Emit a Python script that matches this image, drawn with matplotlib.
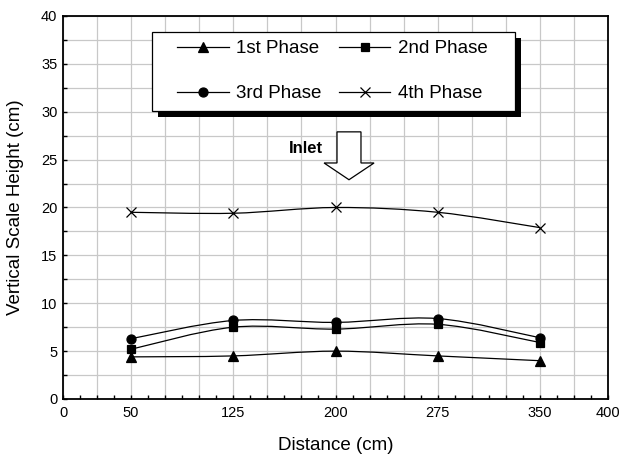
import numpy as np
import matplotlib.pyplot as plt
from matplotlib.path import Path
from matplotlib.patches import PathPatch, Polygon, Rectangle
from matplotlib.lines import Line2D
from matplotlib.ticker import MultipleLocator, FuncFormatter

plt.rcParams['font.family'] = ['Liberation Sans', 'DejaVu Sans']

# Data
distance = [50, 125, 200, 275, 350]
phase1 = [4.4, 4.5, 5.0, 4.5, 4.0]
phase2 = [5.2, 7.5, 7.3, 7.8, 5.9]
phase3 = [6.3, 8.2, 8.0, 8.4, 6.4]
phase4 = [19.5, 19.4, 20.0, 19.5, 17.9]
labels = ['1st Phase', '2nd Phase', '3rd Phase', '4th Phase']
markers = ['^', 's', 'o', 'x']
msizes = [6.5, 5.5, 6.5, 7]
x_labels = [0, 50, 125, 200, 275, 350, 400]


def smooth_path(xs, ys):
    # Catmull-Rom style bezier through the points (like a smoothed line)
    pts = np.column_stack([xs, ys]).astype(float)
    ext = np.vstack([pts[0], pts, pts[-1]])
    verts = [pts[0]]
    codes = [Path.MOVETO]
    for i in range(1, len(ext) - 2):
        p0, p1, p2, p3 = ext[i - 1], ext[i], ext[i + 1], ext[i + 2]
        verts += [p1 + (p2 - p0) / 6, p2 - (p3 - p1) / 6, p2]
        codes += [Path.CURVE4] * 3
    return Path(verts, codes)


W, H = 622, 457
fig = plt.figure(figsize=(W / 100, H / 100), dpi=100)
ax = fig.add_axes([63 / W, 1 - 399 / H, 545 / W, 383 / H])

handles = []
for ys, lab, m, ms in zip([phase1, phase2, phase3, phase4], labels, markers, msizes):
    ax.add_patch(PathPatch(smooth_path(distance, ys), fill=False, edgecolor='black', lw=0.9, zorder=3))
    ax.plot(distance, ys, linestyle='none', marker=m, ms=ms, color='black', mew=0.9, zorder=4)
    handles.append(Line2D([], [], color='black', lw=0.9, marker=m, ms=ms, mew=0.9))

ax.set_xlim(0, 400)
ax.set_ylim(0, 40)
ax.xaxis.set_major_locator(MultipleLocator(25))
ax.xaxis.set_minor_locator(MultipleLocator(12.5))
ax.xaxis.set_major_formatter(FuncFormatter(lambda v, p: '%d' % v if v in x_labels else ''))
ax.yaxis.set_major_locator(MultipleLocator(5))
ax.yaxis.set_minor_locator(MultipleLocator(2.5))
ax.grid(True, which='major', axis='x', color='#c8c8c8', lw=0.9)
ax.grid(True, which='both', axis='y', color='#c8c8c8', lw=0.9)
ax.tick_params(which='both', direction='in', length=3, width=1, labelsize=10.5)
ax.tick_params(axis='x', pad=5)
ax.tick_params(axis='y', pad=4)
for s in ax.spines.values():
    s.set_linewidth(1.3)

ax.set_xlabel('Distance (cm)', fontsize=13.5, labelpad=12)
ax.set_ylabel('Vertical Scale Height (cm)', fontsize=13.5, labelpad=12)

# Inlet arrow
arrow = Polygon([(201.1, 27.9), (218.7, 27.9), (218.7, 24.65), (228.3, 24.65),
                 (209.9, 22.9), (191.6, 24.65), (201.1, 24.65)],
                closed=True, facecolor='white', edgecolor='black', lw=0.9, zorder=5)
ax.add_patch(arrow)
ax.text(178, 26.2, 'Inlet', fontsize=12, fontweight='bold', ha='center', va='center', zorder=5)

# legend box with black drop shadow
ax.add_patch(Rectangle((158 / W, 1 - 117 / H), 363 / W, 79 / H, transform=fig.transFigure,
                       facecolor='black', edgecolor='none', zorder=8, clip_on=False))
ax.add_patch(Rectangle((152 / W, 1 - 111 / H), 363 / W, 79 / H, transform=fig.transFigure,
                       facecolor='white', edgecolor='black', lw=0.9, zorder=9, clip_on=False))

order = [0, 2, 1, 3]
leg = ax.legend([handles[i] for i in order], [labels[i] for i in order], ncol=2,
                loc='upper left', bbox_to_anchor=(177 / W, 1 - 40 / H),
                bbox_transform=fig.transFigure, frameon=False,
                fontsize=13.5, handlelength=2.75, handletextpad=0.38, columnspacing=0.95,
                labelspacing=1.5, borderpad=0, borderaxespad=0)
leg.set_zorder(10)

fig.savefig('out.png', dpi=100)
